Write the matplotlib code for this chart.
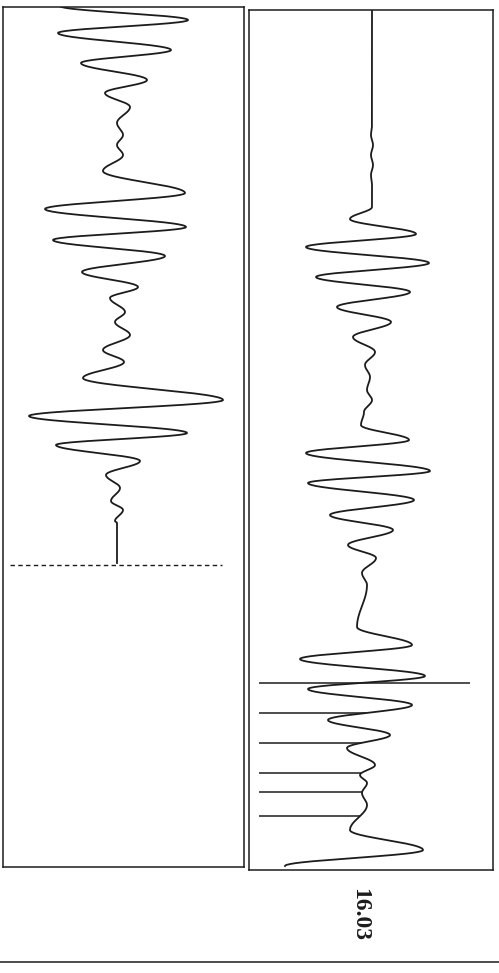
import numpy as np
import matplotlib
matplotlib.use("Agg")
import matplotlib.pyplot as plt
from matplotlib.lines import Line2D

# extrema of the two traces: time (px down the page) and amplitude (px from baseline)
left_t = [6, 20, 33, 50, 63, 80, 93, 107, 123,
          135, 145, 155, 171, 193, 209, 227, 240, 256,
          272, 287, 298, 312, 322, 335, 350, 362, 378,
          400, 416, 433, 445, 461, 475, 488, 501, 510,
          521, 523, 563]
left_a = [-57, 71, -59, 54, -36, 30, -12, 13, 0,
          6, 0, 6, -14, 68, -72, 69, -64, 48,
          -35, 21, -7, 8, -2, 13, -14, 7, -34,
          106, -88, 70, -61, 23, -11, 3, -6, 6,
          -2, 0, 0]

right_t = [10, 125, 135, 145, 155, 165, 175, 185, 207,
           219, 234, 247, 263, 277, 292, 307, 322, 337,
           352, 365, 377, 390, 400, 412, 425, 440, 453,
           471, 483, 500, 515, 530, 545, 558, 573, 585,
           627, 645, 659, 676, 689, 705, 720, 735, 748,
           765, 775, 783, 793, 805, 830, 850, 866]
right_a = [0, 0, -1, 1, -1, 1, -1, 0, 0,
           -22, 44, -66, 57, -56, 38, -35, 19, -19,
           3, -7, -2, -5, 0, -8, -11, 37, -66,
           58, -64, 42, -42, 21, -24, 4, -10, -5,
           -15, 40, -72, 53, -64, 40, -44, 18, -25,
           3, -12, -5, -10, -5, -22, 51, -87]

# reference (dashed) line in the left panel
ref_t = 565
ref_span = (-107, 105)

# pick lines in the right panel
pick_t = [683, 713, 743, 773, 792, 816]
pick_start = -113
long_pick_end = 98

label = "16.03"

W, H = 499, 973
INK = "#1c1c1c"


def smooth_trace(t, a, n=40):
    # join successive extrema with half-cosine segments
    tt, aa = [], []
    for i in range(len(t) - 1):
        s = np.linspace(0, 1, n, endpoint=False)
        w = (1 - np.cos(np.pi * s)) / 2
        tt.append(t[i] + (t[i + 1] - t[i]) * s)
        aa.append(a[i] + (a[i + 1] - a[i]) * w)
    tt.append([t[-1]])
    aa.append([a[-1]])
    return np.concatenate(tt), np.concatenate(aa)


def panel(fig, x0, x1, y0, y1, base):
    ax = fig.add_axes([x0 / W, 1 - y1 / H, (x1 - x0) / W, (y1 - y0) / H])
    ax.set_xlim(x0 - base, x1 - base)
    ax.set_ylim(y1, y0)
    ax.set_xticks([])
    ax.set_yticks([])
    for sp in ax.spines.values():
        sp.set_linewidth(1.1)
        sp.set_color(INK)
    return ax


fig = plt.figure(figsize=(W / 100, H / 100), dpi=100)

ax1 = panel(fig, 3, 244, 7, 867, 117)
lt, la = smooth_trace(left_t, left_a)
ax1.plot(la, lt, color=INK, lw=1.3)
ax1.hlines(ref_t, *ref_span, colors=INK, lw=1.0, linestyles=(0, (3.2, 2.4)))

ax2 = panel(fig, 249, 493, 10, 870, 372)
rt, ra = smooth_trace(right_t, right_a)
ax2.plot(ra, rt, color=INK, lw=1.3)
for i, t in enumerate(pick_t):
    end = long_pick_end if i == 0 else np.interp(t, rt, ra)
    ax2.hlines(t, pick_start, end, colors=INK, lw=1.1)

fig.text(360 / W, 1 - 914 / H, label, rotation=-90, ha="center", va="center",
         fontsize=17, fontweight="bold", family=["Liberation Serif", "DejaVu Serif"],
         color=INK)

fig.add_artist(Line2D([0, 1], [1 - 962 / H, 1 - 962 / H], color=INK, lw=1.1,
                      transform=fig.transFigure))

fig.savefig("out.png", dpi=100, facecolor="white")
